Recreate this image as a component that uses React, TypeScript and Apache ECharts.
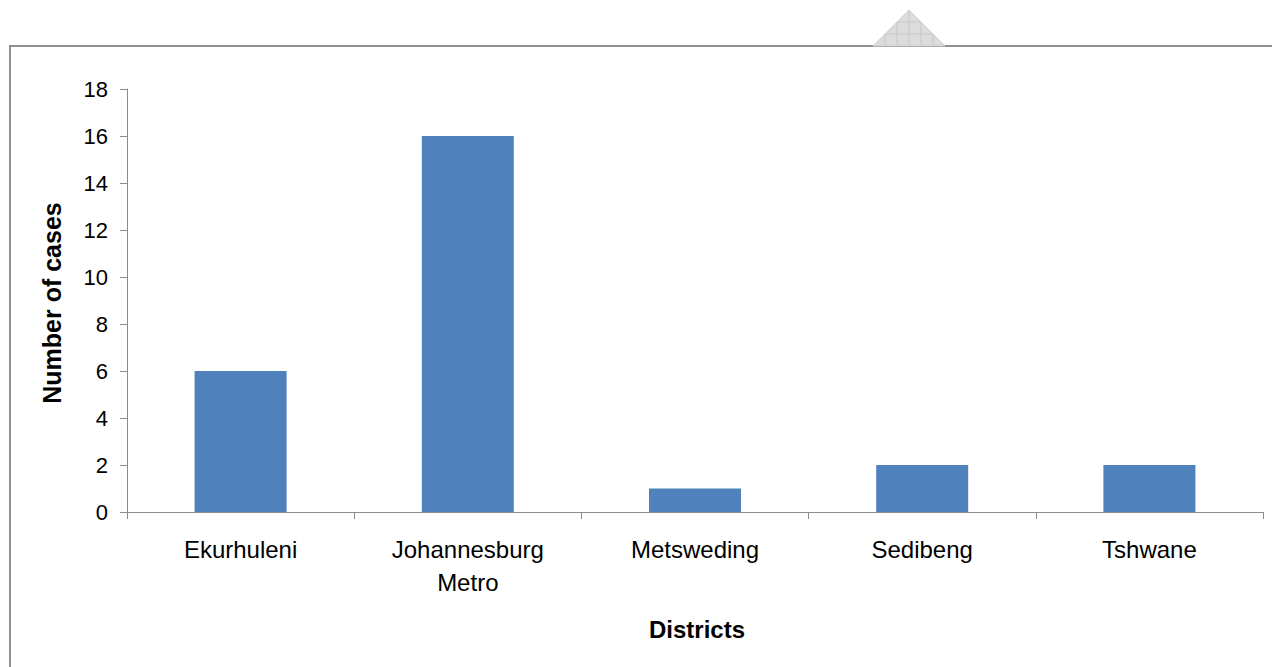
import React, { useEffect, useRef } from "react";
import * as echarts from "echarts";

const categories = ["Ekurhuleni", "Johannesburg\nMetro", "Metsweding", "Sedibeng", "Tshwane"];
const cases = [6, 16, 1, 2, 2];
const yTicks = [0, 2, 4, 6, 8, 10, 12, 14, 16, 18];
const xTitle = "Districts";
const yTitle = "Number of cases";

export default function App() {
  const ref = useRef<HTMLDivElement>(null);
  useEffect(() => {
    const chart = echarts.init(ref.current!, null, { renderer: "svg" });
    const font = "'Liberation Sans', Arial, sans-serif";
    chart.setOption({
      animation: false,
      backgroundColor: "#ffffff",
      grid: { left: 127, top: 89, right: 9, bottom: 155, containLabel: false },
      xAxis: {
        type: "category",
        data: categories,
        axisLine: { show: true, lineStyle: { color: "#8c8c8c", width: 1 } },
        axisTick: { show: true, alignWithLabel: false, length: 7, lineStyle: { color: "#8c8c8c" } },
        axisLabel: { color: "#000", fontSize: 24, fontFamily: font, margin: 21, lineHeight: 33, interval: 0 },
        splitLine: { show: false },
      },
      yAxis: {
        type: "value",
        min: yTicks[0],
        max: yTicks[yTicks.length - 1],
        interval: 2,
        axisLine: { show: true, lineStyle: { color: "#8c8c8c", width: 1 } },
        axisTick: { show: true, length: 7, lineStyle: { color: "#8c8c8c" } },
        axisLabel: { color: "#000", fontSize: 22, fontFamily: font, margin: 19 },
        splitLine: { show: false },
      },
      series: [
        {
          type: "bar",
          data: cases,
          barWidth: 92,
          itemStyle: { color: "#4f81bd" },
        },
      ],
      graphic: [
        {
          type: "rect",
          shape: { x: 10, y: 46, width: 1280, height: 700 },
          style: { fill: "none", stroke: "#8f8f8f", lineWidth: 2 },
          silent: true,
        },
        {
          type: "polygon",
          shape: { points: [[873, 46], [909, 10], [945, 46]] },
          style: { fill: "#dcdcdc", stroke: "#d0d0d0", lineWidth: 1 },
          silent: true,
        },
        ...[885, 897, 909, 921, 933].map((x) => ({
          type: "line",
          shape: { x1: x, y1: 46, x2: x, y2: 46 - (36 - Math.abs(x - 909)) },
          style: { stroke: "#c8c8c8", lineWidth: 1 },
          silent: true,
        })),
        ...[22, 34].map((y) => ({
          type: "line",
          shape: { x1: 909 - (y - 10), y1: y, x2: 909 + (y - 10), y2: y },
          style: { stroke: "#c8c8c8", lineWidth: 1 },
          silent: true,
        })),
        {
          type: "text",
          x: 697,
          y: 629,
          style: {
            text: xTitle,
            fontSize: 24,
            fontWeight: "bold",
            fontFamily: font,
            fill: "#000",
            align: "center",
            verticalAlign: "middle",
          },
        },
        {
          type: "text",
          x: 52,
          y: 303,
          rotation: Math.PI / 2,
          style: {
            text: yTitle,
            fontSize: 25,
            fontWeight: "bold",
            fontFamily: font,
            fill: "#000",
            align: "center",
            verticalAlign: "middle",
          },
        },
      ],
    });
    return () => chart.dispose();
  }, []);
  return (
    <div
      ref={ref}
      style={{ position: "fixed", left: 0, top: 0, width: 1272, height: 667, background: "#fff" }}
    />
  );
}
